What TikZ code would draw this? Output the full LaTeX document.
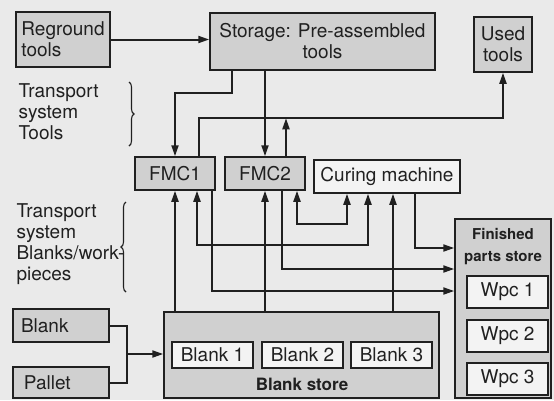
\documentclass[tikz,border=0pt]{standalone}
\usepackage{fontspec}
\setmainfont{TeX Gyre Heros}
\usetikzlibrary{positioning,arrows.meta,decorations.pathreplacing,calc}

\definecolor{pagegray}{RGB}{234,234,234}
\definecolor{boxgray}{RGB}{208,208,208}
\definecolor{boxwhite}{RGB}{243,243,243}
\definecolor{inkgray}{RGB}{32,32,32}

\begin{document}
\begin{tikzpicture}[
    x=1pt, y=-1pt,
    every node/.style={font=\fontsize{19}{21}\selectfont, text=inkgray},
    box/.style={rectangle, draw=inkgray, line width=1.5pt, fill=boxgray, inner sep=2pt},
    whitebox/.style={box, fill=boxwhite},
    leftbox/.style={box, text width=84pt, inner xsep=6pt, align=left},
    arrow/.style={-{Triangle[length=11pt,width=7pt]}, line width=2pt, draw=inkgray},
    twoway/.style={{Triangle[length=11pt,width=7pt]}-{Triangle[length=11pt,width=7pt]}, line width=2pt, draw=inkgray},
    link/.style={line width=2pt, draw=inkgray},
    brace/.style={decorate, decoration={brace, amplitude=5pt}, line width=1.1pt, draw=inkgray}
]

% Page
\fill[pagegray] (0,0) rectangle (554,400);
\useasboundingbox (0,0) rectangle (554,400);

% Tool side (top)
\node[box, minimum width=94pt, minimum height=55pt, align=left] (reground) at (63,39.5) {Reground\\tools};
\node[box, minimum width=225pt, minimum height=57pt, align=center] (storage) at (322.5,41.5) {Storage: Pre-assembled\\tools};
\node[box, minimum width=58pt, minimum height=55pt, align=center] (used) at (503,44.5) {Used\\tools};

% Transport labels
\node[anchor=west, align=left] (tstools) at (15,112) {Transport\\system\\Tools};
\node[anchor=west, align=left] (tsblanks) at (13,244) {Transport\\system\\Blanks/work-\\pieces};
\draw[brace] (129,82) -- (129,146);
\draw[brace] (126,292) -- (126,202);

% Machines
\node[box, minimum width=80pt, minimum height=33pt] (fmc1) at (175,173.5) {FMC1};
\node[box, minimum width=80pt, minimum height=33pt] (fmc2) at (265,173.5) {FMC2};
\node[whitebox, minimum width=146pt, minimum height=33pt] (curing) at (387,176.5) {Curing machine};

% Finished parts store
\node[box, minimum width=96pt, minimum height=179pt] (finished) at (503,308.5) {};
\node[font=\bfseries\fontsize{15}{22}\selectfont, align=center] (finlabel) at (503,246.5) {Finished\\parts store};
\node[whitebox, minimum width=81pt, minimum height=32pt] (wpc1) at (507.5,292) {Wpc 1};
\node[whitebox, minimum width=81pt, minimum height=32pt] (wpc2) at (507.5,336) {Wpc 2};
\node[whitebox, minimum width=81pt, minimum height=32pt] (wpc3) at (507.5,379) {Wpc 3};

% Blank store
\node[box, minimum width=275pt, minimum height=86pt] (blankstore) at (301.5,355) {};
\node[whitebox, minimum width=81pt, minimum height=26pt] (blank1) at (212.5,355) {Blank 1};
\node[whitebox, minimum width=81pt, minimum height=26pt] (blank2) at (302.5,355) {Blank 2};
\node[whitebox, minimum width=81pt, minimum height=26pt] (blank3) at (391.5,355) {Blank 3};
\node[font=\bfseries\fontsize{17}{20}\selectfont] (storelabel) at (302,384) {Blank store};

% Blank and pallet
\node[leftbox, minimum height=33pt] (blank) at (61,325.5) {\hspace*{2pt}Blank};
\node[leftbox, minimum height=31pt] (pallet) at (61,382.5) {\hspace*{5pt}Pallet};

% Helper points
\coordinate (toolret) at ([xshift=24pt,yshift=38pt]fmc1.north);
\coordinate (fmc2out) at ([xshift=21pt]fmc2.north);
\coordinate (curin) at ([xshift=6pt]curing.south);
\coordinate (merge) at ($(blank.east)!0.5!(pallet.east)+(17,0)$);

% Tool flow
\draw[arrow] (reground.east) -- (reground.east -| storage.west);
\draw[arrow] ([xshift=-90.5pt]storage.south) -- ++(0,22) -| (fmc1.north);
\draw[arrow] (fmc2.north |- storage.south) -- (fmc2.north);
\draw[arrow] ([xshift=24pt]fmc1.north) -- (toolret) -| (used.south);
\draw[arrow] (fmc2out) -- (fmc2out |- toolret);

% Blanks to machines
\draw[arrow] (fmc1.south |- blankstore.north) -- (fmc1.south);
\draw[arrow] (fmc2.south |- blankstore.north) -- (fmc2.south);
\draw[arrow] (curin |- blankstore.north) -- (curin);

% Between machines
\draw[twoway] ([xshift=22pt]fmc1.south) -- ++(0,54) -| ([xshift=-19pt]curing.south);
\draw[twoway] ([xshift=32pt]fmc2.south) -- ++(0,33) -| ([xshift=-40pt]curing.south);

% Machines to finished parts
\draw[arrow] ([xshift=37pt]fmc1.south) |- ([yshift=17.5pt]finished.west);
\draw[arrow] ([xshift=17pt]fmc2.south) |- ([yshift=39.5pt]finished.west);
\draw[arrow] ([xshift=28pt]curing.south) |- ([yshift=60.5pt]finished.west);

% Blank + pallet into store
\draw[link] (blank.east) -- ++(17,0) |- (pallet.east);
\draw[arrow] (merge) -- (merge -| blankstore.west);

\end{tikzpicture}
\end{document}
